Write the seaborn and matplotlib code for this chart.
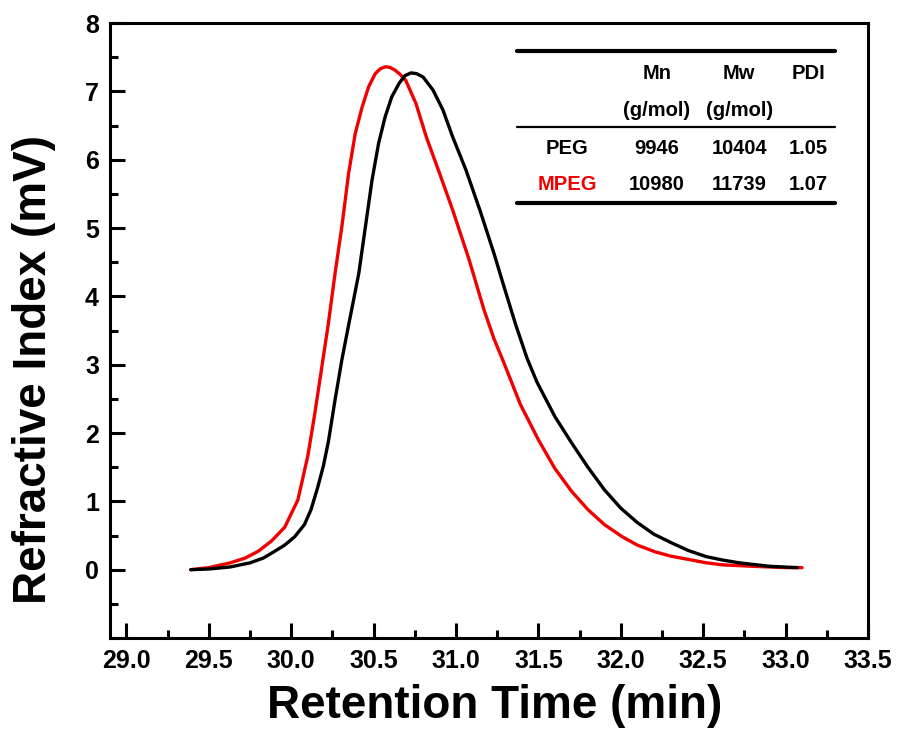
import numpy as np
import pandas as pd
import matplotlib
matplotlib.use("Agg")
import matplotlib.pyplot as plt
from matplotlib.ticker import MultipleLocator
import seaborn as sns

# =============================================================================
# Data
# =============================================================================
peg_time = [29.39, 29.50, 29.63, 29.75, 29.83, 29.90, 29.96, 30.02, 30.08, 30.12,
            30.16, 30.195, 30.225, 30.266, 30.307, 30.348, 30.38, 30.41, 30.45, 30.49,
            30.53, 30.57, 30.61, 30.655, 30.69, 30.726, 30.76, 30.80, 30.86, 30.92,
            30.98, 31.06, 31.145, 31.23, 31.29, 31.36, 31.43, 31.49, 31.60, 31.70,
            31.80, 31.90, 32.00, 32.10, 32.20, 32.31, 32.41, 32.52, 32.62, 32.72,
            32.90, 33.07]
peg_ri = [0.00, 0.01, 0.04, 0.10, 0.17, 0.27, 0.36, 0.48, 0.66, 0.88,
          1.20, 1.52, 1.87, 2.49, 3.07, 3.58, 3.97, 4.34, 5.02, 5.70,
          6.24, 6.63, 6.92, 7.12, 7.23, 7.27, 7.26, 7.21, 7.02, 6.73,
          6.33, 5.85, 5.26, 4.63, 4.15, 3.60, 3.10, 2.75, 2.24, 1.86,
          1.50, 1.17, 0.90, 0.69, 0.52, 0.39, 0.28, 0.19, 0.14, 0.10,
          0.05, 0.03]

mpeg_time = [29.39, 29.50, 29.63, 29.72, 29.80, 29.88, 29.96, 30.04, 30.10, 30.14,
             30.18, 30.225, 30.266, 30.307, 30.348, 30.388, 30.43, 30.47, 30.51, 30.54,
             30.57, 30.60, 30.63, 30.66, 30.695, 30.757, 30.82, 30.90, 30.98, 31.08,
             31.17, 31.23, 31.29, 31.39, 31.50, 31.60, 31.70, 31.80, 31.90, 32.01,
             32.10, 32.21, 32.30, 32.41, 32.52, 32.62, 32.80, 33.00, 33.10]
mpeg_ri = [0.00, 0.03, 0.10, 0.17, 0.27, 0.42, 0.62, 1.02, 1.66, 2.24,
           2.88, 3.60, 4.34, 5.02, 5.80, 6.38, 6.77, 7.07, 7.26, 7.33,
           7.36, 7.35, 7.31, 7.25, 7.16, 6.82, 6.33, 5.80, 5.26, 4.53,
           3.80, 3.38, 3.03, 2.42, 1.90, 1.48, 1.15, 0.88, 0.66, 0.48,
           0.36, 0.26, 0.20, 0.15, 0.10, 0.07, 0.05, 0.03, 0.03]

# Table of molecular weights
table_header = ["Mn", "Mw", "PDI"]
table_units = ["(g/mol)", "(g/mol)", ""]
samples = ["PEG", "MPEG"]
mn_values = ["9946", "10980"]
mw_values = ["10404", "11739"]
pdi_values = ["1.05", "1.07"]
sample_colors = {"PEG": "#000000", "MPEG": "#f00000"}

x_ticks = [29.0, 29.5, 30.0, 30.5, 31.0, 31.5, 32.0, 32.5, 33.0, 33.5]
y_ticks = [0, 1, 2, 3, 4, 5, 6, 7, 8]

# =============================================================================
# Plot
# =============================================================================
sns.set_theme(style="ticks")
plt.rcParams['font.family'] = ['Liberation Sans', 'DejaVu Sans']
plt.rcParams['font.weight'] = 'bold'
for key in ['text.color', 'axes.labelcolor', 'xtick.color', 'ytick.color']:
    plt.rcParams[key] = 'black'

df = pd.concat([
    pd.DataFrame({"time": peg_time, "ri": peg_ri, "sample": "PEG"}),
    pd.DataFrame({"time": mpeg_time, "ri": mpeg_ri, "sample": "MPEG"}),
], ignore_index=True)

fig = plt.figure(figsize=(8.98, 7.31), dpi=100)
ax = fig.add_axes([0.1225, 0.1272, 0.8441, 0.8413])

sns.lineplot(data=df, x="time", y="ri", hue="sample", palette=sample_colors,
             hue_order=["MPEG", "PEG"], linewidth=2.4, sort=False,
             legend=False, ax=ax)

ax.set_xlim(28.9, 33.5)
ax.set_ylim(-1, 8)
ax.set_xticks(x_ticks)
ax.set_xticklabels([f"{t:.1f}" for t in x_ticks])
ax.set_yticks(y_ticks)
ax.xaxis.set_minor_locator(MultipleLocator(0.25))
ax.yaxis.set_minor_locator(MultipleLocator(0.5))
ax.tick_params(which='major', direction='in', length=11, width=2.2,
               labelsize=18, pad=8, colors='black')
ax.tick_params(which='minor', direction='in', length=5.5, width=2.2)
for lab in ax.get_xticklabels() + ax.get_yticklabels():
    lab.set_fontweight('bold')
for side in ['left', 'right', 'top', 'bottom']:
    ax.spines[side].set_visible(True)
    ax.spines[side].set_linewidth(2.2)
    ax.spines[side].set_color('black')

ax.set_xlabel("Retention Time (min)", fontsize=33, fontweight='bold', labelpad=8)
ax.set_ylabel("Refractive Index (mV)", fontsize=33, fontweight='bold', labelpad=21)
ax.xaxis.label.set_x(0.508)
ax.yaxis.label.set_y(0.436)

# --- table in the upper right ---
tx0, tx1 = 0.537, 0.9565
col_x = [0.603, 0.7216, 0.830, 0.921]
ax.plot([tx0, tx1], [0.9545, 0.9545], color='black', lw=3, transform=ax.transAxes)
ax.plot([tx0, tx1], [0.831, 0.831], color='black', lw=1.6, transform=ax.transAxes)
ax.plot([tx0, tx1], [0.7073, 0.7073], color='black', lw=3, transform=ax.transAxes)

fs = 14.5
for i, h in enumerate(table_header):
    ax.text(col_x[i + 1], 0.9187, h, transform=ax.transAxes, ha='center',
            va='center', fontsize=fs, fontweight='bold')
    if table_units[i]:
        ax.text(col_x[i + 1], 0.8585, table_units[i], transform=ax.transAxes,
                ha='center', va='center', fontsize=fs, fontweight='bold')

row_y = [0.7967, 0.738]
for r, s in enumerate(samples):
    vals = [s, mn_values[r], mw_values[r], pdi_values[r]]
    for c, v in enumerate(vals):
        ax.text(col_x[c], row_y[r], v, transform=ax.transAxes, ha='center',
                va='center', fontsize=fs, fontweight='bold',
                color=sample_colors[s] if c == 0 else 'black')

fig.savefig("out.png", dpi=100)
